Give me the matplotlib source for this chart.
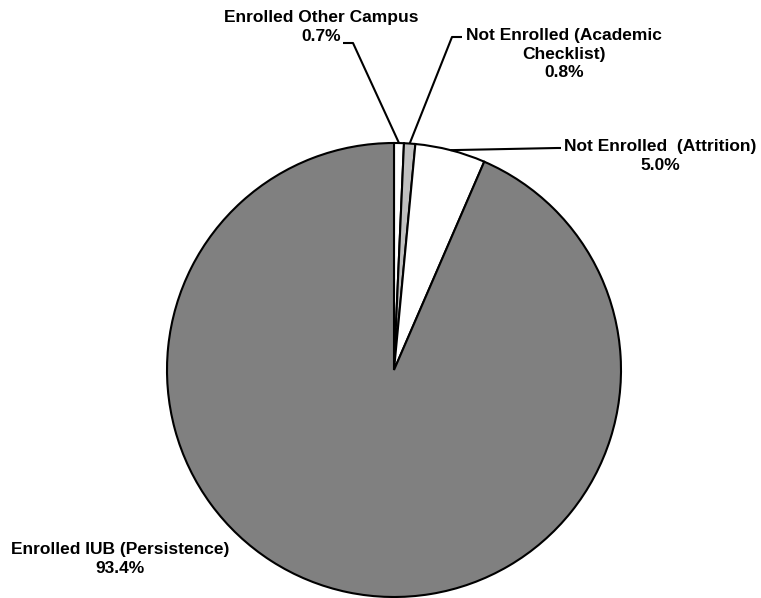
import numpy as np
import matplotlib.pyplot as plt

plt.rcParams["font.family"] = ["Liberation Sans", "DejaVu Sans"]

# slices, clockwise from 12 o'clock
labels = ["Enrolled Other Campus", "Not Enrolled (Academic\nChecklist)",
          "Not Enrolled  (Attrition)", "Enrolled IUB (Persistence)"]
shares = [0.7, 0.8, 5.0, 93.4]
colors = ["white", "#c0c0c0", "white", "#808080"]

W, H = 761, 598
fig = plt.figure(figsize=(W / 100, H / 100), dpi=100)
ax = fig.add_axes([0, 0, 1, 1])

cx, cy, r = 394, H - 370, 227
wedges, _ = ax.pie(shares, colors=colors, startangle=90, counterclock=False,
                   center=(cx, cy), radius=r, frame=True,
                   wedgeprops=dict(edgecolor="black", linewidth=1.5))
ax.set_xlim(0, W)
ax.set_ylim(0, H)
ax.set_aspect("equal")
ax.axis("off")

# label layout in pixels from top-left: (elbow, tick end, text centre x, text centre y)
layout = [
    ((353, 43), (343, 43), 321, 27),
    ((452, 37), (462, 37), 564, 54),
    ((557, 148), (561, 148), 660, 156),
    (None, None, 120, 559),
]

for w, lab, val, (elbow, tick, tx, ty) in zip(wedges, labels, shares, layout):
    mid = np.deg2rad((w.theta1 + w.theta2) / 2)
    if elbow is not None:
        ax_ = cx + r * np.cos(mid)
        ay_ = cy + r * np.sin(mid)
        ax.plot([ax_, elbow[0], tick[0]], [ay_, H - elbow[1], H - tick[1]],
                color="black", lw=1.5, solid_capstyle="butt")
    ax.text(tx, H - ty, f"{lab}\n{val:.1f}%", ha="center", va="center",
            fontsize=12.5, fontweight="bold", linespacing=1.3)

fig.savefig("out.png", dpi=100)
